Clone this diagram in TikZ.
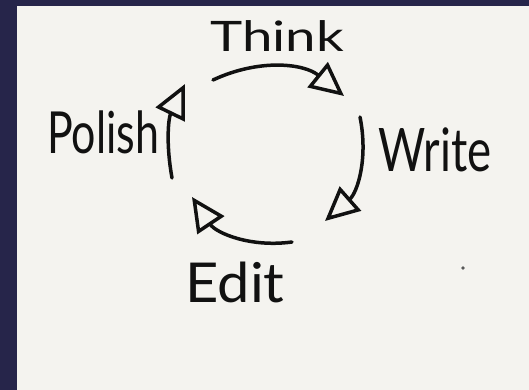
\documentclass[tikz,border=0pt]{standalone}
\usepackage{fontspec}
\setmainfont{Lato}
\usetikzlibrary{arrows.meta}
\definecolor{navy}{HTML}{26254A}
\definecolor{paper}{HTML}{F4F3EF}
\definecolor{ink}{HTML}{111111}

\begin{document}
\begin{tikzpicture}[x=1pt,y=1pt,
  step arrow/.style={-{Triangle[open,length=34pt,width=32pt,line width=3.5pt]},
    line width=3.5pt,color=ink,line cap=round},
  word/.style={text=ink,inner sep=0pt}]
  % page
  \fill[navy] (0,0) rectangle (529,390);
  \fill[paper] (17,0) rectangle (529,384);
  \useasboundingbox (0,0) rectangle (529,390);
  % labels
  \node[word,font=\fontsize{42}{42}\selectfont] (think) at (277,354) {\scalebox{1.3}[1]{Think}};
  \node[word,font=\fontsize{60}{60}\selectfont] (write) at (435,240) {\scalebox{0.76}[1]{Write}};
  \node[word,font=\fontsize{55}{55}\selectfont] (edit) at (235,108) {\scalebox{1.05}[1]{Edit}};
  \node[word,font=\fontsize{58}{58}\selectfont] (polish) at (103,258) {\scalebox{0.74}[1]{Polish}};
  % arc ends
  \coordinate (t1) at (213,310);
  \coordinate (t2) at (344,294);
  \coordinate (w1) at (360,273);
  \coordinate (w2) at (325,169);
  \coordinate (e1) at (292,148);
  \coordinate (e2) at (192,193);
  \coordinate (p1) at (172,212);
  \coordinate (p2) at (185,306);
  \path[step arrow]
  (t1) edge [bend left=32] (t2)
  (w1) edge [bend left=30] (w2)
  (e1) edge [bend left=32] (e2)
  (p1) edge [bend left=18] (p2);
  \fill[ink!70] (463,122) circle (1.8);
\end{tikzpicture}
\end{document}
